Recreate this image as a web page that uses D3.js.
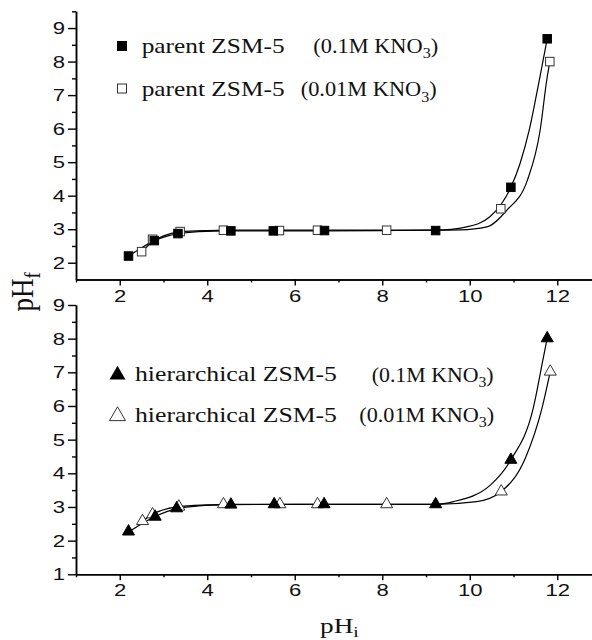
<!DOCTYPE html>
<html>
<head>
<meta charset="utf-8">
<script src="https://cdn.jsdelivr.net/npm/d3@7"></script>
<style>
  html, body { margin: 0; padding: 0; background: #fff; }
  svg { display: block; }
</style>
</head>
<body>
<svg id="chart" width="592" height="640"></svg>
<script>
// ---- measured points [pHi, pHf] ----
const parent01  = [[2.2,2.2],[2.79,2.66],[3.33,2.87],[4.54,2.95],[5.51,2.95],[6.68,2.96],[9.22,2.96],[10.94,4.25],[11.77,8.68]];
const parent001 = [[2.5,2.33],[2.75,2.7],[3.38,2.93],[4.37,2.97],[5.65,2.96],[6.52,2.97],[8.1,2.97],[10.71,3.61],[11.83,8.0]];
const hier01    = [[2.2,2.27],[2.81,2.71],[3.3,2.96],[4.54,3.07],[5.53,3.08],[6.67,3.08],[9.22,3.08],[10.94,4.4],[11.77,8.01]];
const hier001   = [[2.52,2.58],[2.75,2.78],[3.35,3.01],[4.37,3.08],[5.66,3.08],[6.52,3.08],[8.1,3.08],[10.72,3.46],[11.84,7.02]];

// ---- fitted curves (knots) ----
const parent01Fit  = [[2.2,2.2],[2.5,2.45],[2.8,2.66],[3.1,2.8],[3.4,2.88],[3.8,2.93],[4.5,2.95],[6,2.95],[8,2.96],[9.2,2.97],[9.93,3.07],[10.46,3.37],[10.94,4.25],[11.15,4.96],[11.36,5.96],[11.59,7.45],[11.77,8.68]];
const parent001Fit = [[2.5,2.33],[2.75,2.62],[3.0,2.8],[3.38,2.92],[4.0,2.96],[4.5,2.97],[8,2.97],[9.2,2.97],[9.78,2.98],[10.39,3.07],[10.85,3.57],[11.32,4.47],[11.61,5.96],[11.76,7.45],[11.83,8.0]];
const hier01Fit    = [[2.2,2.25],[2.5,2.5],[2.8,2.71],[3.3,2.95],[3.8,3.03],[4.5,3.07],[6,3.08],[9.22,3.08],[9.63,3.16],[10.47,3.65],[10.94,4.4],[11.45,5.93],[11.68,7.42],[11.77,8.01]];
const hier001Fit   = [[2.52,2.58],[2.75,2.78],[3.35,3.01],[4.0,3.06],[4.5,3.08],[9.2,3.08],[10.16,3.16],[10.72,3.46],[11.27,4.45],[11.65,5.93],[11.84,7.02]];

// ---- axes ----
const xMajor = [2,4,6,8,10,12];
const xMinor = [1,3,5,7,9,11,13];
const yMajorTop = [2,3,4,5,6,7,8,9];
const yMinorTop = [2.5,3.5,4.5,5.5,6.5,7.5,8.5,9.5];
const yMajorBot = [1,2,3,4,5,6,7,8,9];
const yMinorBot = [1.5,2.5,3.5,4.5,5.5,6.5,7.5,8.5];

const svg = d3.select("#chart");
const SERIF = "'Liberation Serif','Times New Roman',serif";
const SANS = "'Liberation Sans',Arial,sans-serif";

const x = d3.scaleLinear().domain([1, 13]).range([76, 601]);
const yTop = d3.scaleLinear().domain([1.5, 9.5]).range([279.5, 11.3]);
const yBot = d3.scaleLinear().domain([1, 9]).range([574.3, 305]);

const tickSX = 1.3;

function styleAxis(g) {
  g.selectAll("path.domain").attr("stroke", "#000").attr("stroke-width", 1.5);
  g.selectAll(".tick line").attr("stroke", "#000").attr("stroke-width", 1.4);
  g.selectAll(".tick text")
    .attr("font-family", SANS).attr("font-size", 17).attr("fill", "#111")
    .each(function () {
      const t = d3.select(this);
      const tx = +t.attr("x") || 0;
      t.attr("x", 0).attr("transform", `translate(${tx},0) scale(${tickSX},1)`);
    });
}

function drawPanel(yScale, yMajor, yMinor, xAxisY) {
  const g = svg.append("g");
  // y axis
  g.append("g").attr("transform", `translate(${x(1)},0)`)
    .call(d3.axisLeft(yScale).tickValues(yMinor).tickSize(4).tickSizeOuter(0).tickFormat(""))
    .call(styleAxis);
  g.append("g").attr("transform", `translate(${x(1)},0)`)
    .call(d3.axisLeft(yScale).tickValues(yMajor).tickSize(8).tickSizeOuter(0).tickPadding(3).tickFormat(d3.format("d")))
    .call(styleAxis);
  // x axis
  g.append("g").attr("transform", `translate(0,${xAxisY})`)
    .call(d3.axisBottom(x).tickValues(xMinor).tickSize(3).tickSizeOuter(0).tickFormat(""))
    .call(styleAxis);
  g.append("g").attr("transform", `translate(0,${xAxisY})`)
    .call(d3.axisBottom(x).tickValues(xMajor).tickSize(6).tickSizeOuter(0).tickPadding(4).tickFormat(d3.format("d")))
    .call(styleAxis);
  return g;
}

function drawCurve(g, pts, yScale) {
  const line = d3.line().x(d => x(d[0])).y(d => yScale(d[1])).curve(d3.curveMonotoneX);
  g.append("path").attr("d", line(pts)).attr("fill", "none")
    .attr("stroke", "#000").attr("stroke-width", 1.2);
}

function drawSquares(g, pts, yScale, filled, size) {
  g.selectAll(null).data(pts).enter().append("rect")
    .attr("x", d => x(d[0]) - size / 2).attr("y", d => yScale(d[1]) - size / 2)
    .attr("width", size).attr("height", size)
    .attr("fill", filled ? "#000" : "#fff").attr("stroke", filled ? "#000" : "#333").attr("stroke-width", 1);
}

function drawTriangles(g, pts, yScale, filled, side) {
  const sym = d3.symbol(d3.symbolTriangle, side * side * Math.sqrt(3) / 4);
  g.selectAll(null).data(pts).enter().append("path")
    .attr("d", sym)
    .attr("transform", d => `translate(${x(d[0])},${yScale(d[1])})`)
    .attr("fill", filled ? "#000" : "#fff").attr("stroke", filled ? "#000" : "#333").attr("stroke-width", 1);
}

// text fitted to a given width (the typeface in the figure runs wide)
function fitText(parts, left, baseline, width, size) {
  const t = svg.append("text").attr("font-family", SERIF).attr("font-size", size).attr("fill", "#111");
  parts.forEach(p => {
    const s = t.append("tspan").text(p.text);
    if (p.sub) s.attr("font-size", size * 0.72).attr("dy", size * 0.28);
    if (p.back) s.attr("dy", -size * 0.28);
  });
  const w = t.node().getBBox().width;
  t.attr("transform", `translate(${left},${baseline}) scale(${width / w},1)`);
  return t;
}
function kno3(conc) {
  return [{ text: `(${conc}M KNO` }, { text: "3", sub: true }, { text: ")", back: true }];
}

// ---- upper panel ----
const upperPanel = drawPanel(yTop, yMajorTop, yMinorTop, 279.5);
drawCurve(upperPanel, parent01Fit, yTop);
drawCurve(upperPanel, parent001Fit, yTop);
drawSquares(upperPanel, parent001, yTop, false, 8.5);
drawSquares(upperPanel, parent01, yTop, true, 8.5);

// ---- lower panel ----
const lowerPanel = drawPanel(yBot, yMajorBot, yMinorBot, 574.3);
drawCurve(lowerPanel, hier01Fit, yBot);
drawCurve(lowerPanel, hier001Fit, yBot);
drawTriangles(lowerPanel, hier001, yBot, false, 12);
drawTriangles(lowerPanel, hier01, yBot, true, 12);

// ---- legends ----
svg.append("rect").attr("x", 117).attr("y", 41).attr("width", 10).attr("height", 10).attr("fill", "#000");
svg.append("rect").attr("x", 117.5).attr("y", 84).attr("width", 9).attr("height", 9).attr("fill", "#fff").attr("stroke", "#333").attr("stroke-width", 1);
fitText([{ text: "parent ZSM-5" }], 141.7, 52.5, 143, 21);
fitText([{ text: "parent ZSM-5" }], 141.7, 95.5, 143, 21);
fitText(kno3("0.1"), 313.3, 52.5, 125, 21);
fitText(kno3("0.01"), 300.7, 96, 136, 21);

const legTri = d3.symbol(d3.symbolTriangle, 16 * 16 * Math.sqrt(3) / 4);
svg.append("path").attr("d", legTri).attr("transform", "translate(117.5,375)").attr("fill", "#000");
svg.append("path").attr("d", legTri).attr("transform", "translate(117.5,416)").attr("fill", "#fff").attr("stroke", "#333").attr("stroke-width", 1);
fitText([{ text: "hierarchical ZSM-5" }], 135, 380.5, 202, 21);
fitText([{ text: "hierarchical ZSM-5" }], 135, 421.5, 202, 21);
fitText(kno3("0.1"), 371.7, 381.5, 122, 21);
fitText(kno3("0.01"), 359.3, 421.5, 135, 21);

// ---- axis titles ----
const yt = svg.append("text").attr("font-family", SERIF).attr("font-size", 27).attr("fill", "#111")
  .attr("transform", "translate(33,311.5) scale(1.2,1) rotate(-90)");
yt.append("tspan").text("pH");
yt.append("tspan").text("f").attr("font-size", 19).attr("dy", 6);

const xt = svg.append("text").attr("font-family", SERIF).attr("font-size", 21).attr("fill", "#111")
  .attr("transform", "translate(320,633) scale(1.3,1)");
xt.append("tspan").text("pH");
xt.append("tspan").text("i").attr("font-size", 15).attr("dy", 4);
</script>
</body>
</html>
